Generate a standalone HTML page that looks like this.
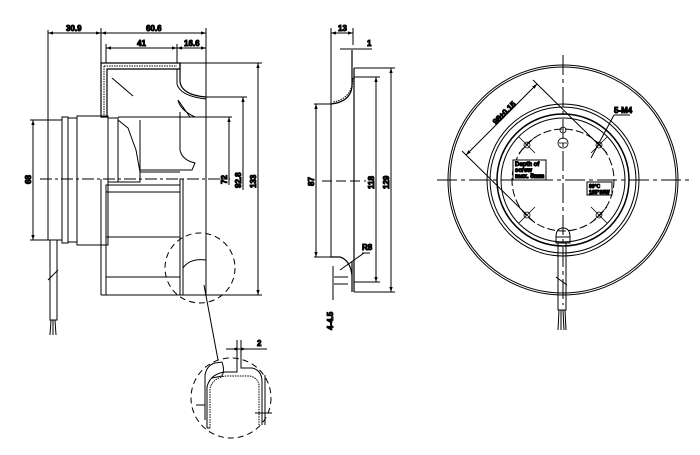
<!DOCTYPE html>
<html><head><meta charset="utf-8"><style>
html,body{margin:0;padding:0;background:#fff;width:700px;height:455px;overflow:hidden}
svg text{font-family:"Liberation Sans",sans-serif;font-weight:bold;font-size:8px;fill:#000}
</style></head><body>
<svg width="700" height="455" viewBox="0 0 700 455" xmlns="http://www.w3.org/2000/svg" fill="none" stroke="#000" stroke-width="1">
<defs><marker id="a" viewBox="0 0 6 6" refX="6" refY="3" markerWidth="5" markerHeight="5" orient="auto-start-reverse"><path d="M0,1 L6,3 L0,5z" fill="#000" stroke="none"/></marker></defs>
<!-- LEFT VIEW -->
<g>
<line x1="48" y1="30" x2="48" y2="120"/><line x1="101" y1="28" x2="101" y2="63"/><line x1="206" y1="28" x2="206" y2="295"/>
<line x1="48" y1="33" x2="101" y2="33" marker-start="url(#a)" marker-end="url(#a)"/>
<line x1="101" y1="33" x2="206" y2="33" marker-start="url(#a)" marker-end="url(#a)"/>
<line x1="106" y1="48" x2="177" y2="48" marker-start="url(#a)" marker-end="url(#a)"/>
<line x1="177" y1="48" x2="206" y2="48" marker-start="url(#a)" marker-end="url(#a)"/>
<line x1="106" y1="44" x2="106" y2="63"/><line x1="177" y1="44" x2="177" y2="63"/>
<text x="66" y="31">30.9</text><text x="146" y="31">60.6</text><text x="137" y="46">41</text><text x="184" y="46">16.6</text>
<path d="M101,63 H180 V69 H107 V117 H101 Z" stroke-width="1.2"/>
<path d="M104,66 H177 M104,66 V115" stroke-dasharray="1.5,1" />
<path d="M180,63 V82 Q182,95 206,97" stroke-width="1.2"/><path d="M177,69 V84 Q180,96 206,99"/>
<path d="M178,100 Q180,110 195,117 L190,117 Z"/>
<line x1="112" y1="78" x2="133" y2="96"/>
<line x1="180" y1="63" x2="262" y2="63"/><line x1="206" y1="97" x2="247" y2="97"/><line x1="118" y1="117" x2="232" y2="117"/>
<line x1="229" y1="117" x2="229" y2="185" marker-start="url(#a)"/>
<line x1="243" y1="97" x2="243" y2="190" marker-start="url(#a)"/>
<line x1="258" y1="63" x2="258" y2="295" marker-start="url(#a)" marker-end="url(#a)"/>
<line x1="180" y1="295" x2="262" y2="295"/>
<text transform="translate(227,184) rotate(-90)">72</text>
<text transform="translate(241,188) rotate(-90)">92.8</text>
<text transform="translate(256,188) rotate(-90)">133</text>
<rect x="48" y="120" width="14" height="120"/>
<rect x="62" y="117" width="6" height="126"/><rect x="68" y="118" width="9" height="124"/>
<rect x="77" y="116" width="31" height="129"/><rect x="108" y="118" width="10" height="64"/>
<path d="M118,120 L128,128 L136,150 L140,172 H180 M118,182 H140 V120"/>
<path d="M180,112 V150 Q182,160 195,163 L192,170 H140" />
<line x1="40" y1="179" x2="230" y2="179" stroke-dasharray="12,3,3,3"/>
<line x1="33" y1="120" x2="33" y2="240" marker-start="url(#a)" marker-end="url(#a)"/>
<line x1="30" y1="120" x2="48" y2="120"/><line x1="30" y1="240" x2="48" y2="240"/>
<text transform="translate(31,184) rotate(-90)">68</text>
<rect x="106" y="185" width="74" height="110"/>
<line x1="106" y1="192" x2="180" y2="192"/><line x1="106" y1="237" x2="180" y2="237"/><line x1="106" y1="277" x2="180" y2="277"/>
<line x1="101" y1="179" x2="101" y2="295"/><line x1="101" y1="295" x2="106" y2="295"/>
<rect x="180" y="179" width="3" height="116"/>
<path d="M183,268 Q190,258 206,260"/>
<circle cx="200" cy="268" r="35" stroke-dasharray="6,4"/>
<line x1="204" y1="285" x2="218" y2="360"/>
<rect x="50" y="240" width="7" height="80"/><line x1="48" y1="280" x2="58" y2="270"/>
<path d="M51,320 L50,335 M53,320 L53,335 M55,320 L56,335"/>
</g>
<!-- DETAIL -->
<g>
<circle cx="231" cy="398" r="40" stroke-dasharray="6,4"/>
<path d="M205,420 V375 Q207,365 215,363 L222,362 Q225,370 222,376 L212,378"/>
<path d="M207,428 V387 Q210,374 225,372 H237 V340 M241,340 V368 H252 Q262,370 262,382 V425 M265,375 V425" />
<path d="M210,428 V388 Q213,378 226,376 H250 Q258,378 259,385 V425" stroke-dasharray="1.5,1"/>
<line x1="207" y1="428" x2="210" y2="428"/>
<line x1="196" y1="405" x2="205" y2="405"/><line x1="255" y1="413" x2="272" y2="413"/>
<line x1="226" y1="349" x2="267" y2="349"/><line x1="237" y1="349" x2="232" y2="349" marker-end="url(#a)"/><line x1="241" y1="349" x2="246" y2="349" marker-end="url(#a)"/>
<text x="257" y="346">2</text>
</g>
<!-- MIDDLE VIEW -->
<g>
<line x1="331" y1="28" x2="331" y2="257"/><line x1="353" y1="28" x2="353" y2="45"/>
<line x1="331" y1="33" x2="353" y2="33" marker-start="url(#a)" marker-end="url(#a)"/>
<text x="338" y="31">13</text>
<line x1="340" y1="49" x2="372" y2="49"/><text x="367" y="46">1</text>
<path d="M352,50 V87 Q350,102 331,104 M354,68 V275 M352,262 V292 M354,275 V292" stroke-width="1.2"/>
<path d="M353,78 Q352,99 333,102" stroke-dasharray="1.5,1"/>
<path d="M331,257 H340 Q350,260 352,275" stroke-width="1.2"/>
<line x1="314" y1="104" x2="331" y2="104"/><line x1="314" y1="257" x2="331" y2="257"/>
<line x1="316" y1="104" x2="316" y2="257" marker-start="url(#a)" marker-end="url(#a)"/>
<text transform="translate(314,186) rotate(-90)">87</text>
<line x1="354" y1="68" x2="395" y2="68"/><line x1="354" y1="77" x2="380" y2="77"/>
<line x1="354" y1="282" x2="380" y2="282"/><line x1="354" y1="292" x2="395" y2="292"/>
<line x1="376" y1="77" x2="376" y2="282" marker-start="url(#a)" marker-end="url(#a)"/>
<line x1="391" y1="68" x2="391" y2="292" marker-start="url(#a)" marker-end="url(#a)"/>
<text transform="translate(374,189) rotate(-90)">118</text>
<text transform="translate(389,189) rotate(-90)">129</text>
<line x1="322" y1="181" x2="366" y2="181" stroke-dasharray="10,4"/>
<line x1="340" y1="270" x2="364" y2="253"/><line x1="362" y1="253" x2="370" y2="253"/><text x="362" y="250">R8</text>
<line x1="333" y1="266" x2="333" y2="300"/>
<line x1="334" y1="277" x2="348" y2="277"/><line x1="334" y1="284" x2="348" y2="284"/>
<text transform="translate(333,330) rotate(-90)">4-4.5</text>
</g>
<!-- RIGHT VIEW -->
<g>
<circle cx="563" cy="180" r="115"/><circle cx="563" cy="180" r="113"/>
<circle cx="563" cy="180" r="76"/><circle cx="563" cy="180" r="73"/>
<circle cx="563" cy="180" r="66" stroke-width="1.5"/><circle cx="563" cy="180" r="62"/>
<circle cx="563" cy="180" r="51" stroke-dasharray="8,3"/>
<line x1="437" y1="180" x2="690" y2="180" stroke-dasharray="20,4,4,4"/>
<line x1="563" y1="55" x2="563" y2="305" stroke-dasharray="20,4,4,4"/>
<g stroke-width="0.8">
<circle cx="527" cy="145" r="3"/><line x1="519" y1="137" x2="535" y2="153"/><line x1="519" y1="153" x2="535" y2="137"/>
<circle cx="599" cy="145" r="3"/><line x1="591" y1="137" x2="607" y2="153"/><line x1="591" y1="153" x2="607" y2="137"/>
<circle cx="527" cy="215" r="3"/><line x1="519" y1="207" x2="535" y2="223"/><line x1="519" y1="223" x2="535" y2="207"/>
<circle cx="599" cy="215" r="3"/><line x1="591" y1="207" x2="607" y2="223"/><line x1="591" y1="223" x2="607" y2="207"/>
<circle cx="563" cy="130" r="3"/><circle cx="563" cy="143" r="5"/><line x1="559" y1="143" x2="567" y2="143"/>
</g>
<path d="M556,237 Q556,228 563,228 Q570,228 570,237 Z"/><rect x="556" y="237" width="14" height="6"/>
<rect x="558" y="243" width="8" height="67"/><line x1="556" y1="277" x2="567" y2="285"/>
<path d="M559,310 L558,330 M561,310 L561,330 M563,310 L564,330 M565,310 L566,330"/>
<line x1="466" y1="155" x2="537" y2="84" marker-start="url(#a)" marker-end="url(#a)"/>
<line x1="462" y1="151" x2="527" y2="215"/><line x1="533" y1="80" x2="599" y2="145"/>
<text transform="translate(496,125) rotate(-45)">98±0.15</text>
<line x1="591" y1="158" x2="614" y2="115"/><line x1="614" y1="115" x2="630" y2="115"/>
<text x="614" y="113">5-M4</text>
<rect x="513" y="160" width="33" height="20" fill="#fff"/>
<text x="515" y="166" style="font-size:6px">Depth of</text><text x="515" y="172" style="font-size:6px">screw</text><text x="515" y="178" style="font-size:6px">max. 5mm</text>
<rect x="587" y="182" width="25" height="13" fill="#fff"/>
<text x="589" y="188" style="font-size:5px">80°C</text><text x="589" y="194" style="font-size:5px">105°30W</text>
</g>
</svg>
</body></html>
